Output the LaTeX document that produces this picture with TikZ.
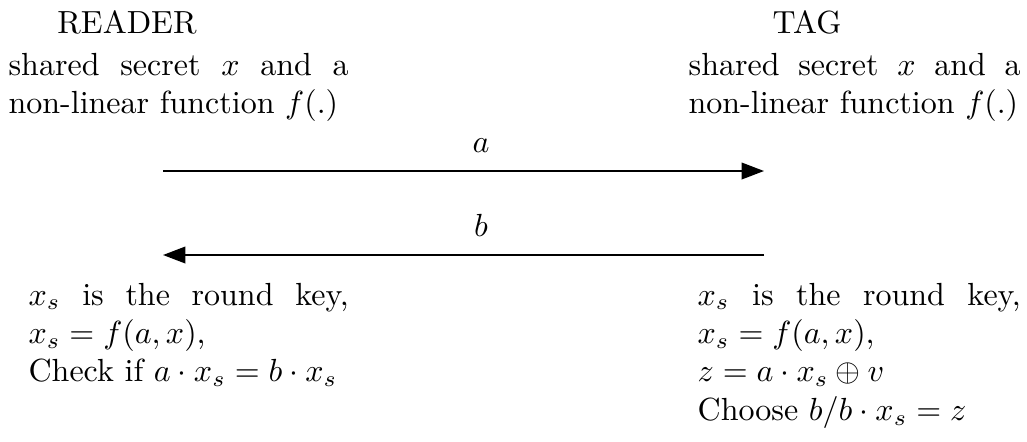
\documentclass[tikz,border=0pt]{standalone}
\usetikzlibrary{arrows.meta}
\begin{document}
\begin{tikzpicture}[x=0.3125pt,y=-0.3125pt,
  txt/.style={inner sep=0pt, align=justify, anchor=base west},
  msg/.style={line width=0.55pt, -{Triangle[length=7pt,width=5.2pt]}},
  lbl/.style={inner sep=0pt, anchor=base}]
\useasboundingbox (0,0) rectangle (1027,441);
\node[lbl] (reader) at (127,33) {READER};
\node[lbl] (tag) at (807,33) {TAG};
\node[txt, text width=106.25pt] (rinfo) at (8,75) {shared secret $x$ and a\linebreak non-linear function $f(.)$};
\node[txt, text width=103.75pt] (tinfo) at (688,75) {shared secret $x$ and a\linebreak non-linear function $f(.)$};
\coordinate (ra) at (163,171);
\coordinate (ta) at (764,171);
\coordinate (tb) at (764,255);
\coordinate (rb) at (163,255);
\draw[msg] (ra) -- (ta);
\draw[msg] (tb) -- (rb);
\node[lbl] (la) at (481,152) {$a$};
\node[lbl] (lb) at (481,236) {$b$};
\node[txt, text width=100pt] (rcomp) at (28,305) {$x_s$ is the round key,\linebreak $x_s=f(a,x)$,\\ Check if $a\cdot x_s=b\cdot x_s$};
\node[txt, text width=101pt] (tcomp) at (697,305) {$x_s$ is the round key,\linebreak $x_s=f(a,x)$,\\ $z=a\cdot x_s\oplus v$\\ Choose $b/b\cdot x_s=z$};
\end{tikzpicture}
\end{document}
